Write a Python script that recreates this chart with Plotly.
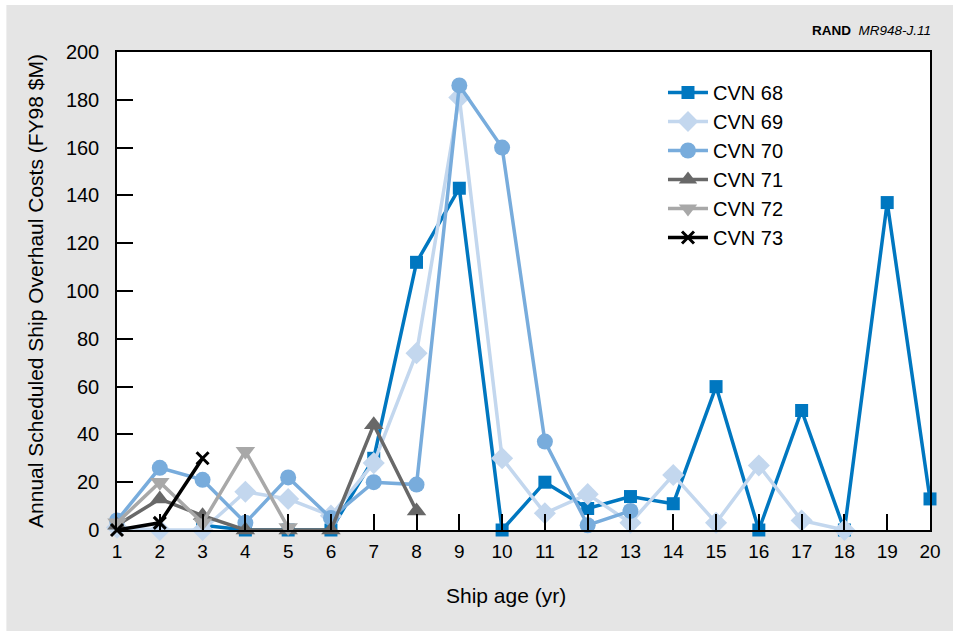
import plotly.graph_objects as go

ages = list(range(1, 21))

cvn68_x = [3, 4, 5, 6, 7, 8, 9, 10, 11, 12, 13, 14, 15, 16, 17, 18, 19, 20]
cvn68_y = [2, 0, 0, 0, 30, 112, 143, 0, 20, 9, 14, 11, 60, 0, 50, 0, 137, 13]

cvn69_x = list(range(1, 19))
cvn69_y = [1, 0, 0, 16, 13, 6, 28, 74, 181, 30, 7, 15, 3, 23, 3, 27, 4, 0]

cvn70_x = list(range(1, 14))
cvn70_y = [4, 26, 21, 3, 22, 5, 20, 19, 186, 160, 37, 2, 8]

cvn71_x = list(range(1, 9))
cvn71_y = [2, 13, 6, 0, 0, 0, 44, 8]

cvn72_x = list(range(1, 6))
cvn72_y = [3, 20, 3, 33, 1]

cvn73_x = [1, 2, 3]
cvn73_y = [0, 3, 30]

y_ticks = list(range(0, 201, 20))

series = [
    ("CVN 68", cvn68_x, cvn68_y, "#0077c0", "square", 13),
    ("CVN 69", cvn69_x, cvn69_y, "#c3d7ee", "diamond", 17),
    ("CVN 70", cvn70_x, cvn70_y, "#78acdc", "circle", 16),
    ("CVN 71", cvn71_x, cvn71_y, "#686868", "triangle-up", 17),
    ("CVN 72", cvn72_x, cvn72_y, "#a8a8a8", "triangle-down", 17),
    ("CVN 73", cvn73_x, cvn73_y, "#000000", "x-thin", 12),
]

FONT = "Liberation Sans, Arial, sans-serif"

fig = go.Figure()
for name, xs, ys, color, sym, size in series:
    mk = dict(symbol=sym, size=size, color=color)
    if sym == "x-thin":
        mk["line"] = dict(color=color, width=3)
    fig.add_trace(go.Scatter(
        x=xs, y=ys, name=name, mode="lines+markers",
        line=dict(color=color, width=3.5),
        marker=mk,
    ))

W, H = 953, 631
L, R, T, B = 117, 20, 52, 101
pw, ph = W - L - R, H - T - B

def px2x(p):
    return (p - L) / pw

def py2y(p):
    return (H - B - p) / ph

fig.add_shape(type="rect", xref="paper", yref="paper",
              x0=px2x(6), x1=px2x(960), y0=py2y(640), y1=py2y(5),
              fillcolor="#e5e5e5", line=dict(width=0), layer="below")
fig.add_shape(type="rect", xref="paper", yref="paper",
              x0=0, x1=1, y0=0, y1=1,
              fillcolor="white", line=dict(width=0), layer="below")

fig.add_annotation(xref="paper", yref="paper", x=px2x(936), y=py2y(30),
                   xanchor="right", yanchor="middle", showarrow=False,
                   text="<b>RAND</b>  <i>MR948-J.11</i>",
                   font=dict(family=FONT, size=13.5, color="black"))

# x-axis title (placed slightly left of centre, as in the reference)
fig.add_annotation(xref="paper", yref="paper", x=px2x(507), y=py2y(595),
                   xanchor="center", yanchor="middle", showarrow=False,
                   text="Ship age (yr)",
                   font=dict(family=FONT, size=21, color="black"))

fig.update_layout(
    width=W, height=H,
    margin=dict(l=L, r=R, t=T, b=B),
    paper_bgcolor="white", plot_bgcolor="rgba(0,0,0,0)",
    font=dict(family=FONT, size=18, color="black"),
    showlegend=True,
    legend=dict(x=px2x(665), y=py2y(73), xanchor="left", yanchor="top",
                bgcolor="rgba(0,0,0,0)", font=dict(family=FONT, size=20),
                tracegroupgap=0, itemwidth=40),
    xaxis=dict(range=[1, 20], tickmode="array", tickvals=ages,
               ticks="inside", ticklen=16, tickcolor="black", tickwidth=1.5,
               showline=True, linecolor="black", linewidth=1.5, mirror=True,
               showgrid=False, zeroline=False, ticklabelstandoff=3,
               tickfont=dict(family=FONT, size=19)),
    yaxis=dict(range=[0, 200], tickmode="array", tickvals=y_ticks,
               ticks="inside", ticklen=16, tickcolor="black", tickwidth=1.5,
               showline=True, linecolor="black", linewidth=1.5, mirror=True,
               showgrid=False, zeroline=False, ticklabelstandoff=12,
               title=dict(text="Annual Scheduled Ship Overhaul Costs (FY98 $M)",
                          standoff=17,
                          font=dict(family=FONT, size=21, color="black")),
               tickfont=dict(family=FONT, size=20)),
)
fig.update_traces(cliponaxis=False)

fig.write_html("out.html", config={"displayModeBar": False},
               post_script="document.body.style.margin='0px';")
